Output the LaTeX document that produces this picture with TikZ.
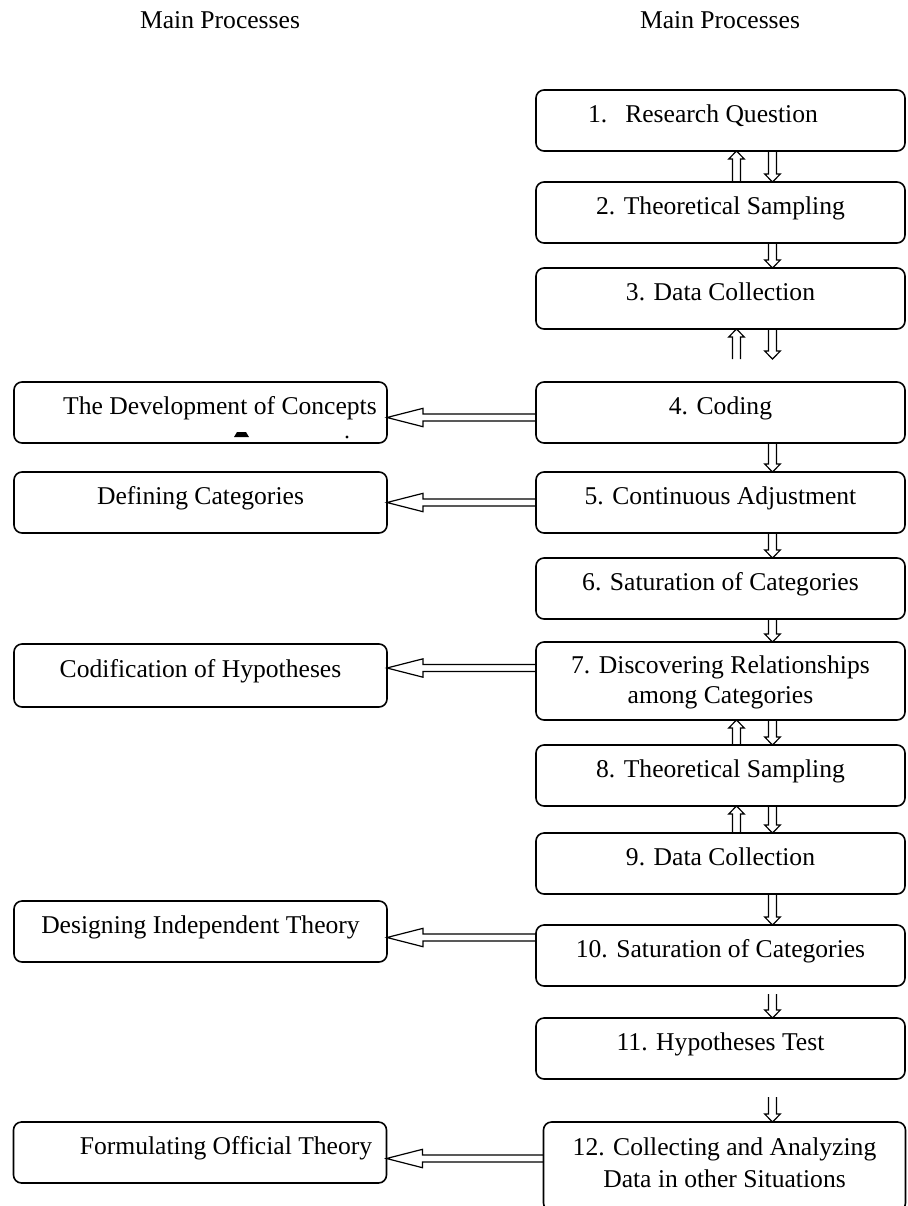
\documentclass[tikz,border=0pt]{standalone}
\usepackage{fontspec}
\setmainfont{Liberation Serif}
\usetikzlibrary{positioning,calc}

\tikzset{
  hollow/.style n args={3}{to path={
    let \p1=(\tikztostart), \p2=(\tikztotarget) in
    ($(\p2)!#3!(\p1)$) coordinate (hb)
    ($(\p1)!#1!90:(\p2)$) -- ($(hb)!#1!90:(\p2)$) -- ($(hb)!#2!90:(\p2)$)
    -- (\p2) -- ($(hb)!#2!-90:(\p2)$) -- ($(hb)!#1!-90:(\p2)$)
    -- ($(\p1)!#1!-90:(\p2)$)
  }}
}

\begin{document}
\begin{tikzpicture}[x=0.5pt, y=-0.5pt, font=\fontsize{12.8}{15}\selectfont,
    rbox/.style={draw, rounded corners=4pt, line width=0.8pt, minimum width=184.5pt,
      inner sep=0pt, outer sep=0pt, align=center, text height=16pt, text depth=14.5pt},
    lbox/.style={rbox, minimum width=186.5pt},
    varrow/.style={hollow={2pt}{3.9pt}{4pt}, line width=0.6pt},
    harrow/.style={hollow={1.75pt}{4.6pt}{18pt}, line width=0.6pt}]
  \useasboundingbox (0,0) rectangle (907,1206);

  \node (hdrL) at (220,20) {Main Processes};
  \node (hdrR) at (720,20) {Main Processes};

  % main column
  \node[rbox, anchor=north] (p1) at (720.5,90) {1.\hspace{9pt}Research Question\hspace*{17.5pt}};
  \node[rbox, below=15.5pt of p1] (p2) {2. Theoretical Sampling};
  \node[rbox, below=12.5pt of p2] (p3) {3. Data Collection};
  \node[rbox, below=26.5pt of p3] (p4) {4. Coding};
  \node[rbox, below=14.5pt of p4] (p5) {5. Continuous Adjustment};
  \node[rbox, below=12.5pt of p5] (p6) {6. Saturation of Categories};
  \node[rbox, below=11.5pt of p6, text height=30.5pt, text depth=8.5pt] (p7)
    {7. Discovering Relationships\\ among Categories};
  \node[rbox, below=12.5pt of p7] (p8) {8. Theoretical Sampling};
  \node[rbox, below=13.5pt of p8] (p9) {9. Data Collection};
  \node[rbox, below=15.5pt of p9] (p10) {10. Saturation of Categories};
  \node[rbox, below=16pt of p10] (p11) {11. Hypotheses Test};
  \node[rbox, below=21.5pt of p11, xshift=2pt, minimum width=181pt,
    text height=32.5pt, text depth=12pt] (p12)
    {12. Collecting and Analyzing\\[1pt] Data in other Situations};

  % side column
  \node[lbox, left=74.5pt of p4.north west, anchor=north east] (concepts)
    {\hspace*{19.5pt}The Development of Concepts};
  \node[lbox, left=74.5pt of p5.north west, anchor=north east] (defining)
    {Defining Categories};
  \node[lbox, left=74.5pt of p7.north west, anchor=north east, yshift=-1pt,
    minimum height=31.5pt] (codif) {Codification of Hypotheses};
  \node[lbox, left=74.5pt of p10.north west, anchor=north east, yshift=12pt] (designing)
    {Designing Independent Theory};
  \node[lbox, left=78.5pt of p12.north west, anchor=north east] (formulating)
    {\hspace*{26pt}Formulating Official Theory};
  \fill (234,437) -- (249,437) -- (246,432) -- (237,432) -- cycle;
  \fill (347,437) circle (0.8pt);

  % arrows down the main column
  \foreach \a/\b in {p1/p2, p2/p3, p4/p5, p5/p6, p6/p7, p7/p8, p8/p9, p9/p10}
    \draw[varrow] ([xshift=26pt]\a.south) to ([xshift=26pt]\a.south |- \b.north);
  \foreach \a/\b in {p1/p2, p7/p8, p8/p9}
    \draw[varrow] ([xshift=8pt]\b.north) to ([xshift=8pt]\b.north |- \a.south);
  \coordinate (s34) at ([yshift=-15pt]p3.south);
  \draw[varrow] ([xshift=26pt]p3.south) to ([xshift=26pt]s34);
  \draw[varrow] ([xshift=8pt]s34) to ([xshift=8pt]p3.south);
  \coordinate (s1011) at ([xshift=26pt, yshift=-4pt]p10.south);
  \draw[varrow] (s1011) to (s1011 |- p11.north);
  \coordinate (s1112) at ([xshift=26pt, yshift=-9pt]p11.south);
  \draw[varrow] (s1112) to (s1112 |- p12.north);

  % arrows to the side column
  \coordinate (tA) at ([yshift=-2.5pt]concepts.east);
  \coordinate (tC) at ([yshift=3.75pt]codif.east);
  \coordinate (tD) at ([yshift=-3pt]designing.east);
  \coordinate (tE) at ([yshift=-3pt]formulating.east);
  \draw[harrow] (p4.west |- tA) to (tA);
  \draw[harrow] (p5.west |- defining.east) to (defining.east);
  \draw[harrow] (p7.west |- tC) to (tC);
  \draw[harrow] (p10.west |- tD) to (tD);
  \draw[harrow] (p12.west |- tE) to (tE);
\end{tikzpicture}
\end{document}
